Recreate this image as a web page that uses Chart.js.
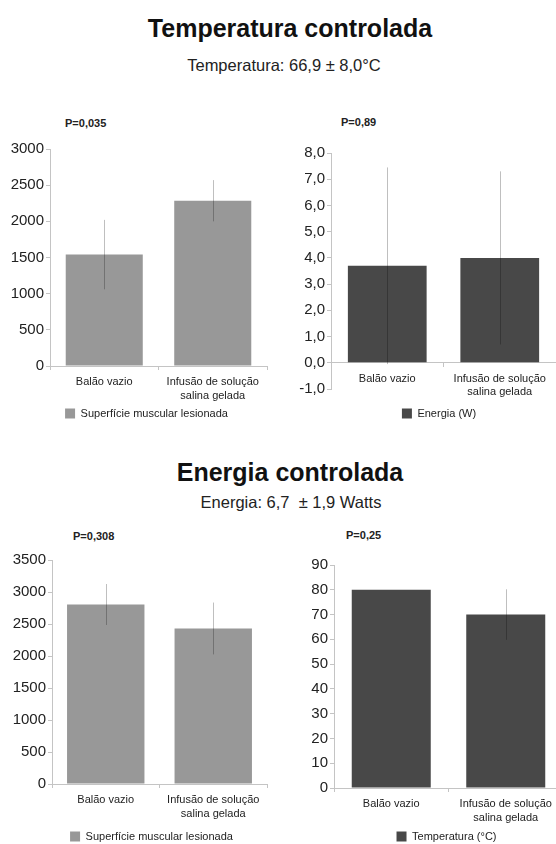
<!DOCTYPE html>
<html>
<head>
<meta charset="utf-8">
<script src="https://cdn.jsdelivr.net/npm/chart.js@4.4.1/dist/chart.umd.min.js"></script>
<style>
	html, body { margin: 0; padding: 0; background: #fff; overflow: hidden; }
	#page { position: relative; width: 556px; height: 844px; overflow: hidden; font-family: 'Liberation Sans', Arial, sans-serif; color: #111; }
	.title { position: absolute; font-weight: bold; font-size: 25px; white-space: nowrap; transform: translate(-50%, -50%); }
	.sub { position: absolute; font-size: 16.5px; white-space: nowrap; transform: translate(-50%, -50%); color: #222; }
	.pval { position: absolute; font-weight: bold; font-size: 11px; white-space: nowrap; transform: translateY(-50%); color: #222; }
	.panel { position: absolute; }
</style>
</head>
<body>
<div id="page">
	<div class="title" style="left:290px; top:28px;">Temperatura controlada</div>
	<div class="sub" style="left:284px; top:65px;">Temperatura: 66,9 ± 8,0°C</div>
	<div class="title" style="left:290px; top:472px;">Energia controlada</div>
	<div class="sub" style="left:291px; top:502px;">Energia: 6,7 &nbsp;± 1,9 Watts</div>

	<div class="pval" style="left:65px; top:123px;">P=0,035</div>
	<div class="pval" style="left:341px; top:122px;">P=0,89</div>
	<div class="pval" style="left:73px; top:536px;">P=0,308</div>
	<div class="pval" style="left:346px; top:535px;">P=0,25</div>

	<div class="panel" style="left:0px; top:130px;"><canvas id="chart-1" width="272" height="299"></canvas></div>
	<div class="panel" style="left:276px; top:130px;"><canvas id="chart-2" width="280" height="299"></canvas></div>
	<div class="panel" style="left:0px; top:540px;"><canvas id="chart-3" width="272" height="312"></canvas></div>
	<div class="panel" style="left:276px; top:540px;"><canvas id="chart-4" width="290" height="312"></canvas></div>
</div>
<script>
const categories = ['Balão vazio', ['Infusão de solução', 'salina gelada']];

// Temperatura controlada
const surfaceTemp = [1540, 2285];
const surfaceTempErr = [480, 285];
const energyTemp = [3.7, 4.0];
const energyTempErr = [3.75, 3.3];

// Energia controlada
const surfaceEnergy = [2805, 2430];
const surfaceEnergyErr = [320, 405];
const tempEnergy = [80, 70];
const tempEnergyErr = [0, 10.2];

// [min, max, step]
const ticksSurfaceTemp = [0, 3000, 500];
const ticksEnergyTemp = [-1, 8, 1];
const ticksSurfaceEnergy = [0, 3500, 500];
const ticksTempEnergy = [0, 90, 10];

const lightBar = '#989898';
const darkBar = '#484848';
const axisColor = '#c4c4c4';

const errorBars = {
	id: 'errorBars',
	afterDatasetsDraw(chart) {
		const ctx = chart.ctx;
		const y = chart.scales.y;
		const ds = chart.data.datasets[0];
		const meta = chart.getDatasetMeta(0);
		ctx.save();
		ctx.strokeStyle = 'rgba(0,0,0,0.25)';
		ctx.lineWidth = 1;
		meta.data.forEach((bar, i) => {
			if (!ds.errors[i]) return;
			const x = Math.round(bar.x) + 0.5;
			ctx.beginPath();
			ctx.moveTo(x, y.getPixelForValue(ds.data[i] + ds.errors[i]));
			ctx.lineTo(x, y.getPixelForValue(ds.data[i] - ds.errors[i]));
			ctx.stroke();
		});
		ctx.restore();
	}
};

// the legends are not centred under the plots in the original, nudge them sideways
const legendShift = {
	id: 'legendShift',
	afterLayout(chart, args, opts) {
		if (chart.legend && opts.dx) {
			chart.legend.left += opts.dx;
			chart.legend.right += opts.dx;
		}
	}
};

function makeChart(id, label, values, errors, color, range, fmt, opt) {
	return new Chart(document.getElementById(id).getContext('2d'), {
		type: 'bar',
		data: {
			labels: categories,
			datasets: [{
				label: label,
				data: values,
				errors: errors,
				backgroundColor: color,
				borderWidth: 0,
				barPercentage: opt.bar,
				categoryPercentage: 1,
			}]
		},
		plugins: [errorBars, legendShift],
		options: {
			responsive: false,
			animation: false,
			layout: { padding: opt.padding },
			plugins: {
				tooltip: { enabled: false },
				legendShift: { dx: opt.legendDx },
				legend: {
					position: 'bottom',
					labels: {
						boxWidth: 10,
						boxHeight: 10,
						padding: opt.legendPad,
						color: '#222',
						font: { family: "'Liberation Sans', Arial", size: 11 },
					}
				}
			},
			scales: {
				x: {
					position: opt.xAtZero ? { y: 0 } : 'bottom',
					afterFit: s => { s.height = 38 },
					border: { color: axisColor },
					grid: { drawOnChartArea: false, tickLength: 4, color: axisColor, offset: true },
					ticks: {
						padding: 5,
						color: '#222',
						maxRotation: 0,
						font: { family: "'Liberation Sans', Arial", size: 11, lineHeight: 1.25 },
					}
				},
				y: {
					min: range[0],
					max: range[1],
					afterFit: s => { s.width = opt.yWidth },
					border: { color: axisColor },
					grid: { drawOnChartArea: false, tickLength: 4, color: axisColor },
					ticks: {
						stepSize: range[2],
						padding: 2,
						color: '#222',
						font: { family: "'Liberation Sans', Arial", size: 15 },
						callback: fmt,
					}
				}
			}
		}
	});
}

const plain = v => String(v);
const comma = v => v.toFixed(1).replace('.', ',');

makeChart('chart-1', 'Superfície muscular lesionada', surfaceTemp, surfaceTempErr, lightBar, ticksSurfaceTemp, plain, {
	padding: { left: 0, right: 5, top: 19, bottom: 0 }, yWidth: 50, legendPad: 4, legendDx: 13, bar: 0.71
});
makeChart('chart-2', 'Energia (W)', energyTemp, energyTempErr, darkBar, ticksEnergyTemp, comma, {
	padding: { left: 0, right: 0, top: 23, bottom: 0 }, yWidth: 55, legendPad: 19, legendDx: 23, bar: 0.70, xAtZero: true
});
makeChart('chart-3', 'Superfície muscular lesionada', surfaceEnergy, surfaceEnergyErr, lightBar, ticksSurfaceEnergy, plain, {
	padding: { left: 0, right: 5, top: 20, bottom: 0 }, yWidth: 52, legendPad: 9, legendDx: 18, bar: 0.72
});
makeChart('chart-4', 'Temperatura (°C)', tempEnergy, tempEnergyErr, darkBar, ticksTempEnergy, plain, {
	padding: { left: 0, right: 3, top: 25, bottom: 0 }, yWidth: 58, legendPad: 5, legendDx: 27, bar: 0.69
});
</script>
</body>
</html>
